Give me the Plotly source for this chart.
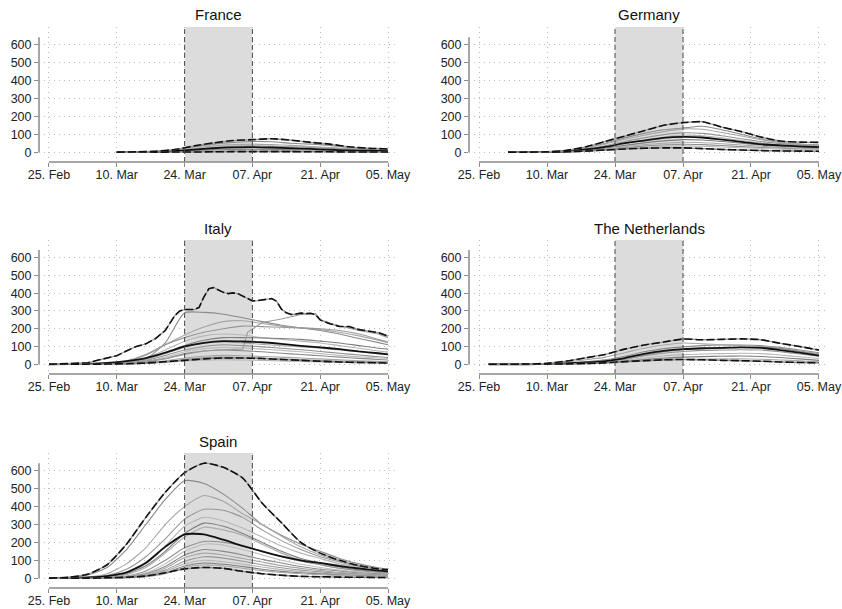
import plotly.graph_objects as go
import pandas as pd

# ---------------- data ----------------
BASE = pd.Timestamp("2020-02-25")
LOCK_START = "2020-03-24"
LOCK_END = "2020-04-07"
TICK_DAYS = [0, 14, 28, 42, 56, 70]
TICK_TEXT = ["25. Feb", "10. Mar", "24. Mar", "07. Apr", "21. Apr", "05. May"]
Y_TICKS = [0, 100, 200, 300, 400, 500, 600]

# France (days since 25 Feb)
FR_DAYS = [14, 18, 22, 26, 30, 34, 38, 42, 46, 50, 54, 58, 62, 66, 70]
FR_MAX = [0, 2, 5, 15, 35, 52, 65, 70, 75, 67, 55, 45, 30, 22, 18]
FR_MIN = [0, 0, 0, 1, 1, 2, 3, 3, 3, 3, 2, 2, 1, 1, 1]
FR_MEAN = [0, 1, 2, 6, 14, 22, 27, 28, 26, 22, 18, 14, 10, 8, 6]
FR_REGIONS = [
    [0, 1, 4, 12, 30, 45, 55, 60, 58, 50, 45, 38, 25, 18, 14],
    [0, 1, 3, 10, 22, 35, 42, 45, 42, 38, 32, 26, 20, 15, 12],
    [0, 1, 2, 7, 16, 26, 33, 36, 34, 30, 26, 22, 16, 12, 10],
    [0, 0, 2, 5, 12, 18, 22, 24, 22, 20, 17, 14, 11, 9, 7],
    [0, 0, 1, 3, 8, 12, 15, 16, 15, 13, 11, 9, 7, 6, 5],
    [0, 0, 1, 2, 5, 8, 10, 11, 10, 9, 8, 6, 5, 4, 3],
]

# Germany
DE_DAYS = [6, 10, 14, 18, 22, 26, 30, 34, 38, 42, 46, 50, 54, 58, 62, 66, 70]
DE_MAX = [0, 0, 2, 10, 30, 60, 90, 120, 150, 165, 170, 140, 115, 85, 62, 56, 55]
DE_MIN = [0, 0, 0, 2, 6, 12, 18, 22, 24, 24, 20, 15, 12, 9, 7, 6, 5]
DE_MEAN = [0, 0, 1, 5, 15, 30, 50, 65, 80, 85, 82, 70, 58, 45, 38, 32, 28]
DE_REGIONS = [
    [0, 0, 1, 8, 25, 50, 80, 105, 125, 135, 145, 125, 100, 75, 55, 45, 40],
    [0, 0, 1, 6, 20, 45, 72, 95, 115, 130, 128, 110, 90, 70, 55, 45, 38],
    [0, 0, 1, 5, 16, 36, 60, 80, 98, 108, 105, 92, 75, 60, 48, 40, 33],
    [0, 0, 1, 4, 12, 28, 48, 68, 85, 95, 92, 80, 65, 52, 42, 35, 30],
    [0, 0, 0, 3, 10, 22, 38, 52, 63, 70, 68, 60, 50, 40, 33, 28, 24],
    [0, 0, 0, 2, 8, 18, 30, 42, 50, 55, 53, 47, 40, 33, 27, 23, 20],
    [0, 0, 0, 2, 6, 14, 24, 34, 40, 44, 42, 37, 31, 26, 22, 18, 16],
    [0, 0, 0, 1, 5, 11, 19, 27, 32, 35, 33, 29, 25, 21, 17, 14, 12],
]

# Italy
IT_DAYS = [0, 4, 8, 12, 16, 20, 24, 28, 32, 36, 40, 44, 48, 52, 56, 60, 64, 68, 70]
IT_MAX_DAYS = [0, 4, 8, 10, 12, 14, 16, 18, 20, 22, 24, 25, 26, 27, 28, 30, 31, 32, 33, 34,
               35, 36, 37, 38, 39, 40, 41, 42, 43, 44, 45, 46, 47, 48, 49, 50, 51, 52, 53,
               54, 55, 56, 57, 58, 60, 62, 64, 66, 68, 70]
IT_MAX = [0, 2, 8, 22, 35, 48, 75, 100, 115, 145, 190, 230, 275, 300, 308, 308, 320, 380, 425, 432,
          420, 405, 398, 402, 398, 385, 370, 357, 358, 362, 368, 370, 355, 310, 290, 280, 283, 288, 285,
          287, 280, 250, 238, 228, 213, 212, 195, 188, 178, 158]
IT_MIN = [0, 0, 0, 1, 3, 7, 14, 22, 30, 35, 35, 32, 27, 22, 17, 13, 10, 8, 7]
IT_MEAN = [0, 1, 3, 8, 18, 35, 65, 100, 120, 130, 128, 124, 115, 104, 95, 85, 72, 62, 56]
IT_REGIONS = [
    [0, 0, 1, 3, 8, 30, 120, 290, 292, 282, 262, 240, 220, 205, 190, 170, 145, 122, 110],
    [0, 0, 1, 5, 15, 50, 110, 165, 210, 240, 245, 230, 215, 205, 195, 180, 160, 135, 122],
    [0, 0, 2, 6, 20, 55, 110, 150, 180, 200, 215, 212, 208, 205, 200, 190, 170, 140, 125],
    [0, 0, 1, 4, 12, 35, 80, 130, 160, 170, 165, 150, 140, 130, 120, 105, 90, 75, 68],
    [0, 0, 1, 3, 10, 28, 65, 105, 135, 150, 150, 148, 145, 140, 130, 120, 105, 90, 85],
    [0, 0, 1, 3, 9, 26, 60, 95, 118, 125, 120, 112, 105, 98, 90, 80, 70, 60, 55],
    [0, 0, 0, 2, 6, 20, 50, 80, 100, 110, 105, 98, 90, 82, 72, 62, 52, 42, 38],
    [0, 0, 0, 2, 5, 15, 40, 70, 88, 95, 92, 85, 78, 70, 60, 50, 42, 35, 32],
    [0, 0, 0, 1, 4, 12, 32, 60, 75, 80, 76, 70, 62, 55, 48, 40, 33, 27, 24],
    [0, 0, 0, 1, 3, 8, 20, 35, 45, 50, 48, 44, 40, 35, 30, 25, 20, 16, 14],
    [0, 0, 0, 1, 2, 6, 15, 28, 36, 40, 38, 35, 30, 26, 22, 18, 15, 12, 11],
    [0, 0, 0, 0, 1, 4, 10, 18, 23, 25, 24, 22, 19, 16, 13, 11, 9, 7, 6],
]
IT_JUMP_DAYS = [0, 8, 16, 24, 28, 32, 36, 40, 41, 44, 48, 52, 55, 56, 60, 64, 68, 70]
IT_JUMP = [0, 1, 8, 30, 55, 75, 82, 85, 180, 235, 255, 280, 285, 250, 215, 190, 170, 150]

# The Netherlands
NL_DAYS = [2, 6, 10, 14, 18, 22, 26, 30, 34, 38, 42, 46, 50, 54, 58, 62, 66, 70]
NL_MAX = [0, 0, 1, 5, 18, 36, 55, 85, 108, 125, 142, 138, 140, 143, 138, 118, 100, 80]
NL_MIN = [0, 0, 0, 1, 2, 4, 8, 15, 20, 25, 27, 25, 22, 20, 17, 13, 10, 8]
NL_MEAN = [0, 0, 0, 2, 5, 10, 18, 35, 58, 75, 85, 90, 92, 95, 92, 80, 65, 48]
NL_REGIONS = [
    [0, 0, 0, 2, 6, 14, 25, 45, 70, 88, 98, 105, 108, 108, 105, 95, 80, 65],
    [0, 0, 1, 4, 12, 25, 40, 65, 90, 108, 120, 115, 110, 105, 100, 90, 75, 60],
    [0, 0, 0, 1, 4, 9, 16, 30, 48, 62, 72, 78, 80, 82, 80, 70, 58, 45],
    [0, 0, 0, 1, 3, 6, 12, 22, 35, 46, 54, 58, 60, 62, 60, 52, 42, 32],
    [0, 0, 0, 1, 2, 5, 9, 16, 26, 34, 40, 43, 45, 46, 44, 38, 30, 22],
    [0, 0, 0, 0, 1, 3, 6, 11, 18, 23, 27, 29, 30, 30, 28, 24, 19, 14],
    [0, 0, 0, 1, 4, 8, 15, 28, 50, 70, 82, 88, 92, 95, 95, 88, 72, 55],
]

# Spain
SP_DAYS = [0, 4, 8, 12, 16, 20, 24, 28, 32, 36, 40, 44, 48, 52, 56, 60, 64, 68, 70]
SP_MAX = [0, 5, 22, 75, 190, 340, 480, 590, 643, 620, 560, 420, 310, 200, 140, 100, 70, 52, 48]
SP_MIN = [0, 0, 0, 2, 5, 12, 30, 52, 60, 55, 38, 25, 16, 10, 8, 6, 5, 4, 4]
SP_MEAN = [0, 1, 4, 12, 32, 85, 175, 245, 245, 215, 180, 150, 122, 100, 85, 68, 54, 42, 38]
SP_REGIONS = [
    [0, 3, 18, 60, 160, 300, 440, 545, 530, 470, 390, 300, 240, 190, 150, 110, 80, 58, 50],
    [0, 1, 6, 25, 80, 170, 300, 400, 462, 430, 360, 300, 235, 175, 130, 95, 70, 52, 46],
    [0, 1, 4, 15, 50, 120, 220, 330, 385, 380, 340, 270, 210, 160, 120, 90, 65, 48, 42],
    [0, 1, 3, 10, 35, 90, 180, 290, 340, 320, 280, 230, 180, 140, 110, 80, 60, 45, 40],
    [0, 0, 2, 8, 25, 70, 150, 250, 308, 290, 250, 200, 150, 110, 85, 62, 46, 36, 32],
    [0, 0, 2, 6, 20, 60, 140, 230, 285, 270, 240, 190, 140, 100, 75, 55, 42, 32, 28],
    [0, 0, 1, 4, 12, 40, 100, 170, 205, 200, 180, 150, 120, 95, 75, 55, 42, 32, 28],
    [0, 0, 1, 3, 10, 30, 80, 150, 190, 185, 160, 130, 100, 78, 60, 45, 35, 28, 25],
    [0, 0, 1, 2, 8, 25, 65, 130, 160, 150, 130, 105, 85, 65, 50, 40, 30, 24, 22],
    [0, 0, 0, 2, 6, 20, 55, 115, 140, 130, 110, 90, 70, 55, 42, 32, 25, 20, 18],
    [0, 0, 0, 1, 5, 15, 45, 95, 120, 112, 95, 75, 58, 45, 35, 27, 21, 17, 15],
    [0, 0, 0, 1, 4, 12, 38, 80, 100, 92, 78, 62, 48, 37, 29, 22, 17, 14, 12],
    [0, 0, 0, 1, 3, 10, 30, 68, 85, 78, 65, 50, 38, 30, 24, 18, 14, 11, 10],
    [0, 0, 0, 1, 3, 8, 25, 60, 74, 68, 55, 42, 32, 25, 19, 15, 12, 10, 9],
]

# ---------------- styling / layout ----------------
FONT = "Liberation Sans, Arial, Helvetica, sans-serif"
GRAYS = ["#8a8a8a", "#a6a6a6", "#979797", "#b6b6b6", "#7e7e7e", "#ababab", "#909090", "#bdbdbd"]
W, H = 842, 609
ROWS = [(27, 162), (240, 374), (453, 588)]
COLS = [(39, 398), (469, 829)]


def to_dates(days):
    return [(BASE + pd.Timedelta(days=d)).strftime("%Y-%m-%d") for d in days]


X_RANGE = [(BASE - pd.Timedelta(hours=49.5)).strftime("%Y-%m-%d %H:%M"),
           (BASE + pd.Timedelta(days=70, hours=49.5)).strftime("%Y-%m-%d %H:%M")]
Y_RANGE = [-55, 700]
Y_AXIS_TOP = max(SP_MAX)

lock_s, lock_e = pd.Timestamp(LOCK_START), pd.Timestamp(LOCK_END)
LOCK_MID = (lock_s + (lock_e - lock_s) / 2).strftime("%Y-%m-%d %H:%M")
LOCK_WIDTH_MS = (lock_e - lock_s).total_seconds() * 1000

panels = [
    ("France", 0, 0, FR_DAYS, FR_REGIONS, FR_MEAN, FR_MIN, FR_DAYS, FR_MAX, None),
    ("Germany", 0, 1, DE_DAYS, DE_REGIONS, DE_MEAN, DE_MIN, DE_DAYS, DE_MAX, None),
    ("Italy", 1, 0, IT_DAYS, IT_REGIONS, IT_MEAN, IT_MIN, IT_MAX_DAYS, IT_MAX, (IT_JUMP_DAYS, IT_JUMP)),
    ("The Netherlands", 1, 1, NL_DAYS, NL_REGIONS, NL_MEAN, NL_MIN, NL_DAYS, NL_MAX, None),
    ("Spain", 2, 0, SP_DAYS, SP_REGIONS, SP_MEAN, SP_MIN, SP_DAYS, SP_MAX, None),
]

fig = go.Figure()
layout = dict(width=W, height=H, autosize=False, margin=dict(l=0, r=0, t=0, b=0, pad=0),
              paper_bgcolor="white", plot_bgcolor="rgba(0,0,0,0)", showlegend=False,
              font=dict(family=FONT, color="#222"), hovermode=False, bargap=0)
shapes, annotations = [], []

for i, (name, r, c, days, regions, mean, vmin, maxdays, vmax, extra) in enumerate(panels, start=1):
    xa = "x" if i == 1 else f"x{i}"
    ya = "y" if i == 1 else f"y{i}"
    x = to_dates(days)
    common = dict(xaxis=xa, yaxis=ya, mode="lines", hoverinfo="skip")
    # lockdown band (drawn above the gridlines, below the lines)
    fig.add_trace(go.Bar(x=[LOCK_MID], y=[Y_RANGE[1] - Y_RANGE[0]], base=[Y_RANGE[0]],
                         width=[LOCK_WIDTH_MS], marker=dict(color="#dcdcdc", line=dict(width=0)),
                         xaxis=xa, yaxis=ya, hoverinfo="skip"))
    for k, vals in enumerate(regions):
        fig.add_trace(go.Scatter(x=x, y=vals, line=dict(color=GRAYS[k % len(GRAYS)], width=1.1,
                                                        shape="spline", smoothing=0.6), **common))
    if extra is not None:
        fig.add_trace(go.Scatter(x=to_dates(extra[0]), y=extra[1],
                                 line=dict(color="#9c9c9c", width=1.1), **common))
    fig.add_trace(go.Scatter(x=x, y=mean, line=dict(color="#111", width=1.8, shape="spline",
                                                    smoothing=0.6), **common))
    # lower bound
    fig.add_trace(go.Scatter(x=x, y=vmin, line=dict(color="#8c8c8c", width=1.4, shape="spline",
                                                    smoothing=0.6), **common))
    fig.add_trace(go.Scatter(x=x, y=vmin, line=dict(color="#111", width=1.6, dash="8px,3px",
                                                    shape="spline", smoothing=0.6), **common))
    # upper bound
    mx = to_dates(maxdays)
    shp = "linear" if extra is not None else "spline"
    fig.add_trace(go.Scatter(x=mx, y=vmax, line=dict(color="#9a9a9a", width=1.3, shape=shp,
                                                     smoothing=0.6), **common))
    fig.add_trace(go.Scatter(x=mx, y=vmax, line=dict(color="#111", width=1.6, dash="8px,3px",
                                                     shape=shp, smoothing=0.6), **common))

    top, bot = ROWS[r]
    left, right = COLS[c]
    axis_common = dict(showline=False, zeroline=False, showgrid=True, griddash="1px,4px",
                       gridcolor="#bdbdbd", gridwidth=1, ticks="outside", tickcolor="#8a8a8a",
                       automargin=False,
                       tickfont=dict(family=FONT, size=12.5, color="#222"))
    layout["xaxis" if i == 1 else f"xaxis{i}"] = dict(
        domain=[left / W, right / W], anchor=ya, type="date", range=X_RANGE,
        tickmode="array", tickvals=to_dates(TICK_DAYS), ticktext=TICK_TEXT, ticklen=4,
        ticklabelstandoff=-3, **axis_common)
    layout["yaxis" if i == 1 else f"yaxis{i}"] = dict(
        domain=[1 - bot / H, 1 - top / H], anchor=xa, range=Y_RANGE,
        tickmode="array", tickvals=Y_TICKS, ticklen=4, **axis_common)

    xd, yd = f"{xa} domain", f"{ya} domain"
    for d in (LOCK_START, LOCK_END):
        shapes.append(dict(type="line", xref=xa, yref=yd, x0=d, x1=d, y0=0, y1=1,
                           line=dict(color="#4a4a4a", width=1, dash="5px,3px"), layer="above"))
    shapes.append(dict(type="line", xref=xa, yref=yd, x0=to_dates([0])[0], x1=to_dates([70])[0],
                       y0=0, y1=0, line=dict(color="#8a8a8a", width=1.5), layer="above"))
    shapes.append(dict(type="line", xref=xd, yref=ya, x0=0, x1=0, y0=0, y1=Y_AXIS_TOP,
                       line=dict(color="#8a8a8a", width=1.5), layer="above"))
    annotations.append(dict(text=name, xref="paper", yref="paper",
                            x=(left + right) / 2 / W, y=1 - (top - 12) / H,
                            xanchor="center", yanchor="middle", showarrow=False,
                            font=dict(family=FONT, size=15, color="#111")))

layout["shapes"] = shapes
layout["annotations"] = annotations
fig.update_layout(**layout)
fig.write_html("out.html", include_plotlyjs=True, config={"displayModeBar": False},
               post_script="document.body.style.margin='0px';document.body.style.padding='0px';")
